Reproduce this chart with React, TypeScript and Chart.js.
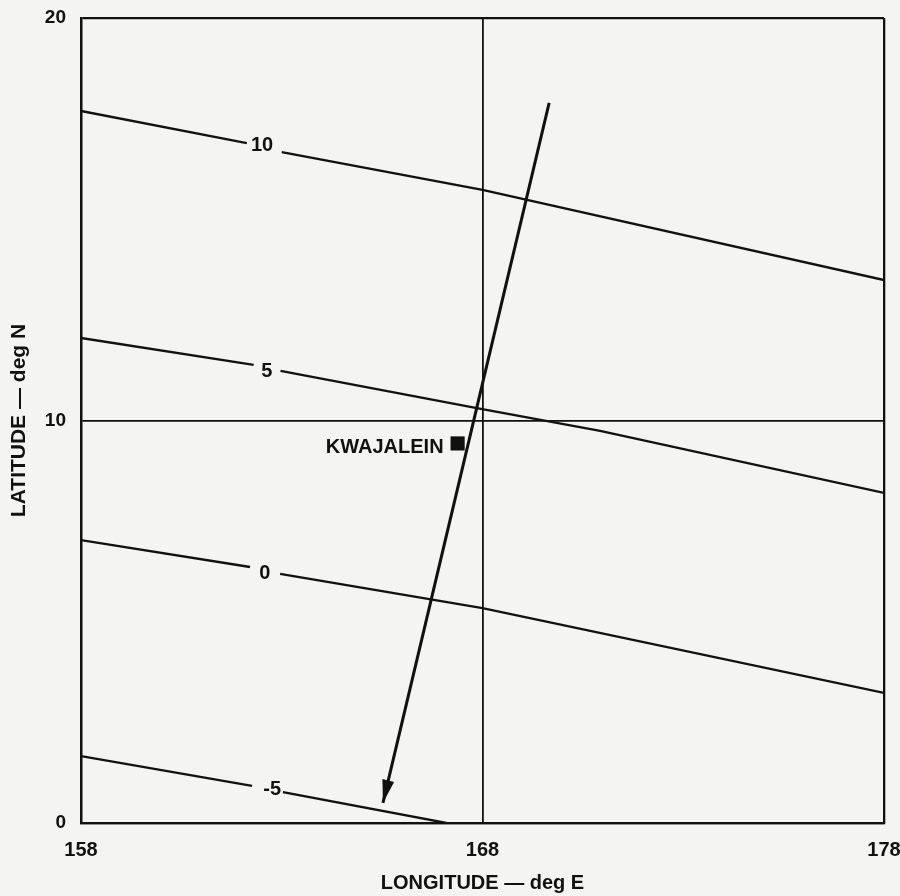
import React, { useEffect, useRef } from 'react';
import { Chart, registerables } from 'chart.js';

Chart.register(...registerables);

// Axis ticks
const xTicks = [158, 168, 178];
const yTicks = [0, 10, 20];

// Contour lines (longitude / latitude), null = gap for the label
const contour10Lon = [158, 162.13, 162.5, 163.0, 168, 178];
const contour10Lat = [17.69, 16.89, null, 16.67, 15.73, 13.49];

const contour5Lon = [158, 162.3, 162.6, 162.97, 167.86, 170.93, 178];
const contour5Lat = [12.05, 11.38, null, 11.23, 10.31, 9.74, 8.2];

const contour0Lon = [158, 162.21, 162.6, 162.96, 168, 178];
const contour0Lat = [7.03, 6.36, null, 6.19, 5.34, 3.23];

const contourM5Lon = [158, 162.26, 162.65, 163.03, 167.1];
const contourM5Lat = [1.66, 0.92, null, 0.77, 0];

// Contour labels
const contourLevels = ['10', '5', '0', '-5'];
const labelLon = [162.51, 162.63, 162.58, 162.76];
const labelLat = [16.84, 11.23, 6.21, 0.84];

// Track (arrow) from start to tip
const trackLon = [169.66, 165.52];
const trackLat = [17.89, 0.5];

// Site
const siteName = 'KWAJALEIN';
const siteLon = [167.38];
const siteLat = [9.43];

const INK = '#111111';
const BG = '#f4f4f2';
const FONT = "'Liberation Sans', Arial, Helvetica, sans-serif";

const toPts = (lon: number[], lat: (number | null)[]) =>
  lon.map((v, i) => ({ x: v, y: lat[i] }));

const annot = {
  id: 'annot',
  beforeDraw(chart: any) {
    const { ctx, width, height } = chart;
    ctx.save();
    ctx.fillStyle = BG;
    ctx.fillRect(0, 0, width, height);
    ctx.restore();
  },
  afterDatasetsDraw(chart: any) {
    const { ctx } = chart;
    const xs = chart.scales.x;
    const ys = chart.scales.y;
    ctx.save();
    ctx.fillStyle = INK;
    ctx.font = `bold 20px ${FONT}`;
    ctx.textAlign = 'center';
    ctx.textBaseline = 'middle';
    contourLevels.forEach((t, i) => {
      ctx.fillText(t, xs.getPixelForValue(labelLon[i]), ys.getPixelForValue(labelLat[i]));
    });
    // arrowhead
    const x0 = xs.getPixelForValue(trackLon[0]);
    const y0 = ys.getPixelForValue(trackLat[0]);
    const x1 = xs.getPixelForValue(trackLon[1]);
    const y1 = ys.getPixelForValue(trackLat[1]);
    const ang = Math.atan2(y1 - y0, x1 - x0);
    const L = 23;
    const W = 6;
    const bx = x1 - L * Math.cos(ang);
    const by = y1 - L * Math.sin(ang);
    ctx.beginPath();
    ctx.moveTo(x1, y1);
    ctx.lineTo(bx + W * Math.sin(ang), by - W * Math.cos(ang));
    ctx.lineTo(bx - W * Math.sin(ang), by + W * Math.cos(ang));
    ctx.closePath();
    ctx.fill();
    // site label
    const kx = xs.getPixelForValue(siteLon[0]);
    const ky = ys.getPixelForValue(siteLat[0]);
    ctx.textAlign = 'right';
    ctx.font = `bold 20px ${FONT}`;
    ctx.fillText(siteName, kx - 14, ky + 4);
    ctx.restore();
  },
};

export default function App() {
  const ref = useRef<HTMLCanvasElement>(null);

  useEffect(() => {
    if (!ref.current) return;
    const lineDs = (lon: number[], lat: (number | null)[], w: number) => ({
      data: toPts(lon, lat),
      borderColor: INK,
      backgroundColor: INK,
      borderWidth: w,
      pointRadius: 0,
      tension: 0,
      spanGaps: false,
      showLine: true,
    });
    const chart = new Chart(ref.current, {
      type: 'line',
      data: {
        datasets: [
          lineDs(contour10Lon, contour10Lat, 2.3),
          lineDs(contour5Lon, contour5Lat, 2.3),
          lineDs(contour0Lon, contour0Lat, 2.3),
          lineDs(contourM5Lon, contourM5Lat, 2.3),
          lineDs(trackLon, trackLat, 3),
          {
            data: toPts(siteLon, siteLat),
            showLine: false,
            pointStyle: 'rect',
            pointRadius: 10,
            backgroundColor: INK,
            borderColor: INK,
            borderWidth: 0,
          } as any,
        ],
      },
      options: {
        animation: false,
        responsive: false,
        devicePixelRatio: 1,
        events: [],
        layout: { padding: { top: 18, right: 16, left: 0, bottom: 0 } },
        plugins: {
          legend: { display: false },
          tooltip: { enabled: false },
        },
        scales: {
          x: {
            type: 'linear',
            min: 158,
            max: 178,
            afterBuildTicks: (s: any) => {
              s.ticks = xTicks.map((v) => ({ value: v }));
            },
            afterFit: (s: any) => {
              s.height = 73;
              s.paddingLeft = 0;
              s.paddingRight = 0;
            },
            grid: {
              color: INK,
              lineWidth: (c: any) => (c.tick && c.tick.value === 168 ? 1.8 : 2.3),
              drawTicks: false,
            },
            border: { display: true, color: INK, width: 2.3 },
            ticks: {
              color: INK,
              padding: 15,
              maxRotation: 0,
              font: { family: FONT, size: 20, weight: 'bold' },
            },
            title: {
              display: true,
              text: 'LONGITUDE — deg E',
              color: INK,
              font: { family: FONT, size: 20, weight: 'bold' },
              padding: { top: 0, bottom: 1 },
            },
          },
          y: {
            type: 'linear',
            min: 0,
            max: 20,
            afterBuildTicks: (s: any) => {
              s.ticks = yTicks.map((v) => ({ value: v }));
            },
            afterFit: (s: any) => {
              s.width = 81;
              s.paddingTop = 0;
              s.paddingBottom = 0;
            },
            grid: {
              color: INK,
              lineWidth: (c: any) => (c.tick && c.tick.value === 10 ? 1.8 : 2.3),
              drawTicks: false,
            },
            border: { display: true, color: INK, width: 2.3 },
            ticks: {
              color: INK,
              padding: 15,
              font: { family: FONT, size: 19, weight: 'bold' },
            },
            title: {
              display: true,
              text: 'LATITUDE — deg N',
              color: INK,
              font: { family: FONT, size: 21, weight: 'bold' },
              padding: { top: 7, bottom: 0 },
            },
          },
        },
      },
      plugins: [annot],
    } as any);
    return () => chart.destroy();
  }, []);

  return (
    <div style={{ position: 'absolute', left: 0, top: 0, width: 900, height: 896, background: BG }}>
      <canvas ref={ref} width={900} height={896} style={{ width: 900, height: 896, display: 'block' }} />
    </div>
  );
}
